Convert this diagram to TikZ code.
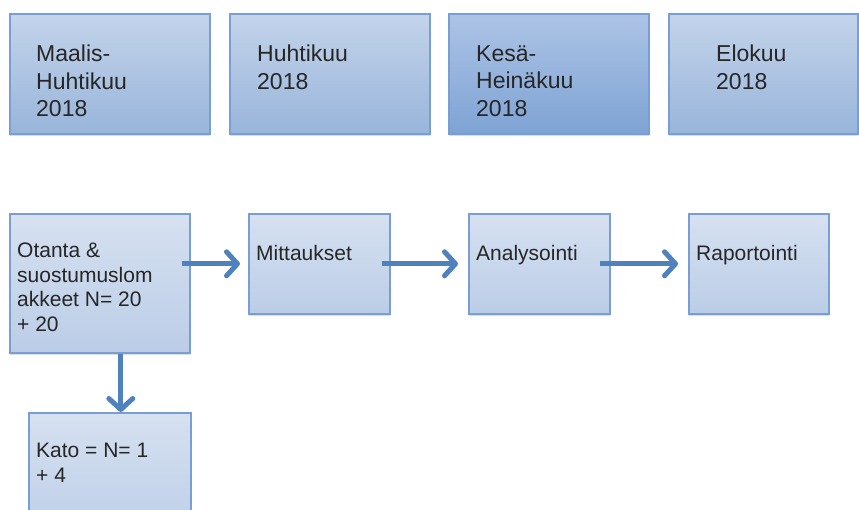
\documentclass[tikz,border=0pt]{standalone}
\usepackage{fontspec}
\setmainfont{Liberation Sans}
\usetikzlibrary{arrows.meta,shadows}
\definecolor{boxline}{HTML}{789ED3}
\definecolor{monthtop}{HTML}{C4D4EB}
\definecolor{monthbot}{HTML}{98B5DA}
\definecolor{darktop}{HTML}{ADC4E6}
\definecolor{darkbot}{HTML}{7EA3D4}
\definecolor{steptop}{HTML}{D6E1F1}
\definecolor{stepbot}{HTML}{BBCDE7}
\definecolor{flowblue}{HTML}{4F81BD}

\begin{document}
\begin{tikzpicture}[x=1pt,y=-1pt,>={Straight Barb[length=11pt,width=24pt,line width=5pt,round]},
  boxbase/.style={draw=boxline,line width=1.6pt,anchor=north west,inner sep=0pt,
    drop shadow={shadow xshift=0.5pt,shadow yshift=-2.5pt,opacity=.22,fill=black!60}},
  month/.style={boxbase,top color=monthtop,bottom color=monthbot,minimum height=120pt},
  stepbox/.style={boxbase,top color=steptop,bottom color=stepbot},
  bigtxt/.style={anchor=north west,inner sep=0pt,align=left,text=black!85,font=\fontsize{23}{27.5}\selectfont},
  smalltxt/.style={anchor=north west,inner sep=0pt,align=left,text=black!85,font=\fontsize{21}{24.5}\selectfont},
  flow/.style={->,flowblue,line width=5pt}]
\clip (0,0) rectangle (859,510);
% months
\node[month,minimum width=200pt] (mar) at (9,13) {};
\node[month,minimum width=200pt] (apr) at (229,13) {};
\node[month,minimum width=200pt,top color=darktop,bottom color=darkbot] (jun) at (448,13) {};
\node[month,minimum width=189pt] (aug) at (668,13) {};
\node[bigtxt] (martxt) at (36,45) {Maalis-\\Huhtikuu\\2018};
\node[bigtxt] (aprtxt) at (257,45) {Huhtikuu\\2018};
\node[bigtxt] (juntxt) at (476,45) {Kesä-\\Heinäkuu\\2018};
\node[bigtxt] (augtxt) at (716,45) {Elokuu\\2018};
% steps
\node[stepbox,minimum width=180pt,minimum height=139pt] (otanta) at (9,213) {};
\node[stepbox,minimum width=141pt,minimum height=100pt] (mitt) at (248,213) {};
\node[stepbox,minimum width=141pt,minimum height=100pt] (ana) at (468,213) {};
\node[stepbox,minimum width=140pt,minimum height=100pt] (rap) at (688,213) {};
\node[stepbox,minimum width=162pt,minimum height=130pt] (kato) at (28,412) {};
\node[smalltxt] (otantatxt) at (17,243) {Otanta \&\\suostumuslom\\akkeet N= 20\\+ 20};
\node[smalltxt] (mitttxt) at (256,245) {Mittaukset};
\node[smalltxt] (anatxt) at (476,245) {Analysointi};
\node[smalltxt] (raptxt) at (696,245) {Raportointi};
\node[smalltxt] (katotxt) at (36,443) {Kato = N= 1\\+ 4};
% flow
\draw[flow] ([xshift=-9pt]otanta.east |- mitt.west) -- ([xshift=-8pt]mitt.west);
\draw[flow] ([xshift=-9pt]mitt.east) -- ([xshift=-10pt]ana.west);
\draw[flow] ([xshift=-11pt]ana.east) -- ([xshift=-10pt]rap.west);
\draw[flow] ([xshift=21pt]otanta.south) -- ([xshift=11pt]kato.north);
\end{tikzpicture}
\end{document}
